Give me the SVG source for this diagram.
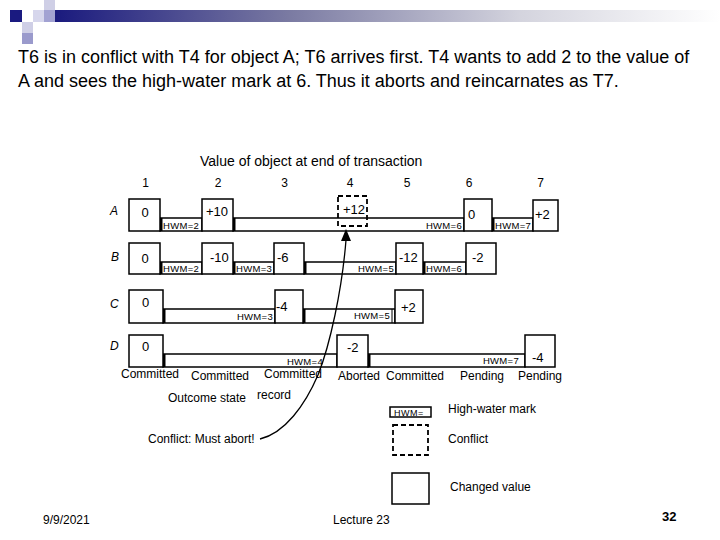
<svg xmlns="http://www.w3.org/2000/svg" width="720" height="540" viewBox="0 0 720 540">
<defs>
<linearGradient id="bar" x1="0" y1="0" x2="1" y2="0">
<stop offset="0" stop-color="#1a1a7e"/>
<stop offset="0.35" stop-color="#7a7aa2"/>
<stop offset="0.7" stop-color="#d4d4de"/>
<stop offset="1" stop-color="#ffffff"/>
</linearGradient>
<style>
.t{font-family:"Liberation Sans",Arial,sans-serif;fill:#000}
.title{font-size:18px}
.lab{font-size:12px}
.val{font-size:13px}
.hwm{font-size:9.5px;letter-spacing:0.3px}
.row{font-size:12px;font-style:italic}
.b{fill:#fff;stroke:#000;stroke-width:1.5}
.d{fill:none;stroke:#000;stroke-width:1.8;stroke-dasharray:5,3}
.e{stroke:#000;stroke-width:3}
</style>
</defs>
<rect width="720" height="540" fill="#fff"/>
<g id="header">
<rect x="55" y="10" width="665" height="12" fill="url(#bar)"/>
<rect x="44" y="0" width="11" height="10" fill="#cfcfe6"/>
<rect x="10" y="10" width="12" height="12" fill="#1a1a80"/>
<rect x="33" y="10" width="11" height="12" fill="#d6d6ec"/>
<rect x="44" y="10" width="11" height="12" fill="#a2a2d2"/>
<rect x="22" y="22" width="11" height="11" fill="#cfcfe6"/>
<rect x="22" y="33" width="11" height="11" fill="#9a9acc"/>
</g>
<g id="heading">
<text class="t title" x="18" y="63">T6 is in conflict with T4 for object A; T6 arrives first. T4 wants to add 2 to the value of</text>
<text class="t title" x="18" y="87">A and sees the high-water mark at 6. Thus it aborts and reincarnates as T7.</text>
</g>
<g id="axis">
<text class="t" x="200" y="166" font-size="14">Value of object at end of transaction</text>
<g class="t lab" text-anchor="middle">
<text x="145.5" y="187">1</text><text x="218" y="187">2</text><text x="284.5" y="187">3</text><text x="350" y="187">4</text><text x="407" y="187">5</text><text x="469" y="187">6</text><text x="540.5" y="187">7</text>
</g>
</g>
<g id="rowA">
<text class="t row" x="110" y="215">A</text>
<rect class="b" x="160" y="218" width="42" height="13"/>
<rect class="b" x="233" y="218" width="231" height="13"/>
<rect class="b" x="492" y="218" width="41" height="13"/>
<line class="e" x1="161" y1="218" x2="161" y2="231"/>
<line class="e" x1="234" y1="218" x2="234" y2="231"/>
<line class="e" x1="493" y1="218" x2="493" y2="231"/>
<rect class="b" x="129" y="199" width="31" height="32"/>
<rect class="b" x="202" y="199" width="31" height="32"/>
<rect class="b" x="464" y="199" width="28" height="32"/>
<rect class="b" x="533" y="200" width="25" height="31"/>
<rect class="d" x="338" y="196" width="29" height="30"/>
<g class="t val">
<text x="145" y="217" text-anchor="middle">0</text>
<text x="217" y="216" text-anchor="middle">+10</text>
<text x="354" y="214" text-anchor="middle">+12</text>
<text x="468" y="219">0</text>
<text x="535" y="219">+2</text>
</g>
<g class="t hwm">
<text x="163" y="229">HWM=2</text>
<text x="462" y="229" text-anchor="end">HWM=6</text>
<text x="495" y="229">HWM=7</text>
</g>
</g>
<g id="rowB">
<text class="t row" x="111" y="261">B</text>
<rect class="b" x="160" y="262" width="42" height="12"/>
<rect class="b" x="233" y="262" width="41" height="12"/>
<rect class="b" x="304" y="262" width="92" height="12"/>
<rect class="b" x="423" y="262" width="43" height="12"/>
<line class="e" x1="161" y1="262" x2="161" y2="274"/>
<line class="e" x1="234" y1="262" x2="234" y2="274"/>
<line class="e" x1="305" y1="262" x2="305" y2="274"/>
<line class="e" x1="424" y1="262" x2="424" y2="274"/>
<rect class="b" x="129" y="243" width="31" height="31"/>
<rect class="b" x="202" y="243" width="31" height="31"/>
<rect class="b" x="274" y="243" width="30" height="31"/>
<rect class="b" x="396" y="243" width="27" height="31"/>
<rect class="b" x="466" y="243" width="30" height="31"/>
<g class="t val">
<text x="145" y="263" text-anchor="middle">0</text>
<text x="210" y="262">-10</text>
<text x="277" y="262">-6</text>
<text x="399" y="262">-12</text>
<text x="472" y="262">-2</text>
</g>
<g class="t hwm">
<text x="163" y="272">HWM=2</text>
<text x="236" y="272">HWM=3</text>
<text x="394" y="272" text-anchor="end">HWM=5</text>
<text x="426" y="272">HWM=6</text>
</g>
</g>
<g id="rowC">
<text class="t row" x="110" y="308">C</text>
<rect class="b" x="163" y="309" width="112" height="14"/>
<rect class="b" x="303" y="309" width="92" height="14"/>
<line class="e" x1="164" y1="309" x2="164" y2="323"/>
<line class="e" x1="304" y1="309" x2="304" y2="323"/>
<line x1="392" y1="309" x2="392" y2="323" stroke="#000" stroke-width="1"/>
<rect class="b" x="129" y="290" width="34" height="33"/>
<rect class="b" x="275" y="290" width="28" height="33"/>
<rect class="b" x="395" y="290" width="28" height="33"/>
<g class="t val">
<text x="142" y="307">0</text>
<text x="276" y="311">-4</text>
<text x="401" y="312">+2</text>
</g>
<g class="t hwm">
<text x="273" y="320" text-anchor="end">HWM=3</text>
<text x="390" y="319" text-anchor="end">HWM=5</text>
</g>
</g>
<g id="rowD">
<text class="t row" x="110" y="350">D</text>
<rect class="b" x="163" y="354" width="174" height="13"/>
<rect class="b" x="368" y="354" width="157" height="13"/>
<line class="e" x1="164" y1="354" x2="164" y2="367"/>
<line class="e" x1="369" y1="354" x2="369" y2="367"/>
<rect class="b" x="129" y="335" width="34" height="32"/>
<rect class="b" x="337" y="335" width="31" height="32"/>
<rect class="b" x="525" y="335" width="30" height="32"/>
<g class="t val">
<text x="142" y="351">0</text>
<text x="347" y="352">-2</text>
<text x="532" y="362">-4</text>
</g>
<g class="t hwm">
<text x="323" y="365" text-anchor="end">HWM=4</text>
<text x="519" y="364" text-anchor="end">HWM=7</text>
</g>
</g>
<g id="outcomes" class="t lab" text-anchor="middle">
<text x="150" y="378">Committed</text>
<text x="220" y="380">Committed</text>
<text x="293" y="378">Committed</text>
<text x="359" y="380">Aborted</text>
<text x="415" y="380">Committed</text>
<text x="482" y="380">Pending</text>
<text x="540" y="380">Pending</text>
</g>
<g id="outcome-label" class="t lab">
<text x="168" y="402">Outcome state</text>
<text x="257" y="399">record</text>
</g>
<g id="conflict-note">
<text class="t lab" x="148" y="443">Conflict: Must abort!</text>
</g>
<g id="connectors">
<path d="M260,439 C285,433 305,405 318,375 C330,345 342,290 346,240" fill="none" stroke="#000" stroke-width="1.3"/>
<polygon points="346,229 341,241 351,241" fill="#000"/>
</g>
<g id="legend">
<rect x="390" y="407" width="41" height="10" fill="#fff" stroke="#000" stroke-width="1.5"/>
<text class="t" x="394" y="416" font-size="9" letter-spacing="0.5">HWM=</text>
<text class="t lab" x="448" y="413">High-water mark</text>
<rect class="d" x="393" y="425" width="35" height="30"/>
<text class="t lab" x="448" y="443">Conflict</text>
<rect class="b" x="392" y="473" width="37" height="31"/>
<text class="t lab" x="450" y="491">Changed value</text>
</g>
<g id="footer" class="t">
<text x="43" y="524" font-size="12">9/9/2021</text>
<text x="333" y="524" font-size="12">Lecture 23</text>
<text x="662" y="521" font-size="13" font-weight="bold">32</text>
</g>
</svg>
